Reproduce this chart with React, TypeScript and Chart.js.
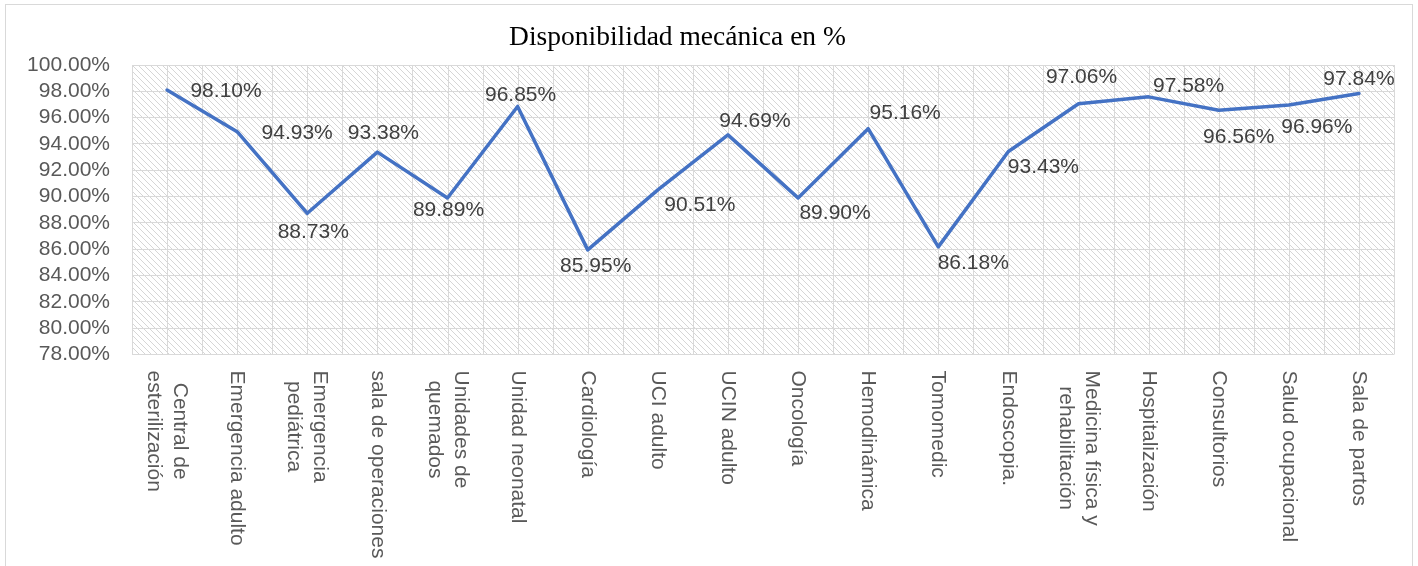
import React, { useEffect, useRef } from "react";
import { Chart, registerables } from "chart.js";

Chart.register(...registerables);

const categories: string[][] = [
  ["Central de", "esterilización"],
  ["Emergencia adulto"],
  ["Emergencia", "pediátrica"],
  ["sala de operaciones"],
  ["Unidades de", "quemados"],
  ["Unidad neonatal"],
  ["Cardiología"],
  ["UCI adulto"],
  ["UCIN adulto"],
  ["Oncología"],
  ["Hemodinámica"],
  ["Tomomedic"],
  ["Endoscopia."],
  ["Medicina física y", "rehabilitación"],
  ["Hospitalización"],
  ["Consultorios"],
  ["Salud ocupacional"],
  ["Sala de partos"],
];

const availability: number[] = [
  98.1, 94.93, 88.73, 93.38, 89.89, 96.85, 85.95, 90.51, 94.69, 89.9, 95.16,
  86.18, 93.43, 97.06, 97.58, 96.56, 96.96, 97.84,
];

// label offsets relative to each point (styling)
const labelOffsets: [number, number][] = [
  [59, 1], [60, 1], [6, 19], [6, -19], [1, 12], [3, -11], [8, 16], [42, 15],
  [27, -14], [37, 15], [37, -15], [35, 16], [35, 16], [3, -26], [40, -11],
  [20, 27], [28, 22], [0, -14],
];

const TITLE = "Disponibilidad mecánica en %";
const Y_MIN = 78;
const Y_MAX = 100;
const Y_STEP = 2;

const SANS = "'Liberation Sans', Arial, sans-serif";

function makeHatch(ctx: CanvasRenderingContext2D): CanvasPattern | string {
  const c = document.createElement("canvas");
  const s = 6;
  c.width = s;
  c.height = s;
  const g = c.getContext("2d")!;
  g.fillStyle = "#ffffff";
  g.fillRect(0, 0, s, s);
  g.fillStyle = "#d6d6d6";
  for (let i = 0; i < s; i++) g.fillRect(i, i, 1, 1);
  return ctx.createPattern(c, "repeat") || "#fff";
}

const customPlugin = {
  id: "custom",
  beforeDraw(chart: any) {
    const { ctx, chartArea } = chart;
    ctx.save();
    ctx.fillStyle = makeHatch(ctx);
    ctx.fillRect(chartArea.left, chartArea.top, chartArea.right - chartArea.left, chartArea.bottom - chartArea.top);
    ctx.restore();
  },
  beforeDatasetsDraw(chart: any) {
    const { ctx, chartArea, scales } = chart;
    const xs = scales.x;
    const n = categories.length;
    const half = (xs.getPixelForValue(1) - xs.getPixelForValue(0)) / 2;
    ctx.save();
    ctx.strokeStyle = "#d9d9d9";
    ctx.lineWidth = 1;
    const xsPos: number[] = [];
    for (let i = 0; i < n; i++) {
      const c = xs.getPixelForValue(i);
      xsPos.push(c - half, c);
    }
    xsPos.push(xs.getPixelForValue(n - 1) + half);
    ctx.beginPath();
    for (const x of xsPos) {
      const px = Math.round(x) + 0.5;
      ctx.moveTo(px, chartArea.top);
      ctx.lineTo(px, chartArea.bottom);
    }
    ctx.stroke();
    ctx.restore();
  },
  afterDatasetsDraw(chart: any) {
    const { ctx } = chart;
    const meta = chart.getDatasetMeta(0);
    ctx.save();
    ctx.font = `21px ${SANS}`;
    ctx.fillStyle = "#404040";
    ctx.textAlign = "center";
    ctx.textBaseline = "middle";
    meta.data.forEach((pt: any, i: number) => {
      const [dx, dy] = labelOffsets[i] || [0, 0];
      ctx.fillText(availability[i].toFixed(2) + "%", pt.x + dx, pt.y + dy);
    });
    ctx.restore();
  },
  afterDraw(chart: any) {
    const { ctx, chartArea, scales } = chart;
    const xs = scales.x;
    ctx.save();
    // category labels, rotated clockwise
    ctx.font = `21px ${SANS}`;
    ctx.fillStyle = "#595959";
    ctx.textAlign = "center";
    ctx.textBaseline = "middle";
    const lh = 26;
    categories.forEach((lines, i) => {
      const x = xs.getPixelForValue(i);
      const maxW = Math.max(...lines.map((l) => ctx.measureText(l).width));
      ctx.save();
      ctx.translate(x, chartArea.bottom + 16);
      ctx.rotate(Math.PI / 2);
      lines.forEach((l, j) => {
        ctx.fillText(l, maxW / 2, (j - (lines.length - 1) / 2) * lh);
      });
      ctx.restore();
    });
    // title
    ctx.font = `27.5px 'Liberation Serif', 'Times New Roman', serif`;
    ctx.fillStyle = "#000000";
    ctx.textAlign = "center";
    ctx.textBaseline = "alphabetic";
    ctx.fillText(TITLE, chart.width / 2 - 31.5, 40);
    ctx.restore();
  },
};

export default function App() {
  const ref = useRef<HTMLCanvasElement | null>(null);
  useEffect(() => {
    if (!ref.current) return;
    const chart = new Chart(ref.current, {
      type: "line",
      data: {
        labels: categories,
        datasets: [
          {
            data: availability,
            borderColor: "#4472C4",
            borderWidth: 3.5,
            pointRadius: 0,
            tension: 0,
            borderJoinStyle: "round",
            borderCapStyle: "round",
            fill: false,
          },
        ],
      },
      options: {
        animation: false,
        responsive: false,
        maintainAspectRatio: false,
        layout: { padding: { left: 0, right: 18, top: 60, bottom: 211.5 } },
        plugins: {
          legend: { display: false },
          title: { display: false },
          tooltip: { enabled: false },
        },
        scales: {
          x: { type: "category", offset: true, display: false },
          y: {
            min: Y_MIN,
            max: Y_MAX,
            afterFit: (s: any) => {
              s.width = 126;
            },
            ticks: {
              stepSize: Y_STEP,
              autoSkip: false,
              padding: 22,
              color: "#595959",
              font: { family: SANS, size: 21 },
              callback: (v: any) => Number(v).toFixed(2) + "%",
            },
            grid: { color: "#d9d9d9", lineWidth: 1, drawTicks: false },
            border: { display: false },
          },
        },
      },
      plugins: [customPlugin],
    });
    return () => chart.destroy();
  }, []);
  return (
    <div
      style={{
        position: "absolute",
        left: 5,
        top: 4,
        width: 1406,
        height: 561,
        borderTop: "1px solid #d9d9d9",
        borderLeft: "1px solid #d9d9d9",
        borderRight: "1px solid #d9d9d9",
        overflow: "hidden",
        background: "#fff",
      }}
    >
      <canvas ref={ref} width={1406} height={561} style={{ display: "block", width: 1406, height: 561 }} />
    </div>
  );
}
